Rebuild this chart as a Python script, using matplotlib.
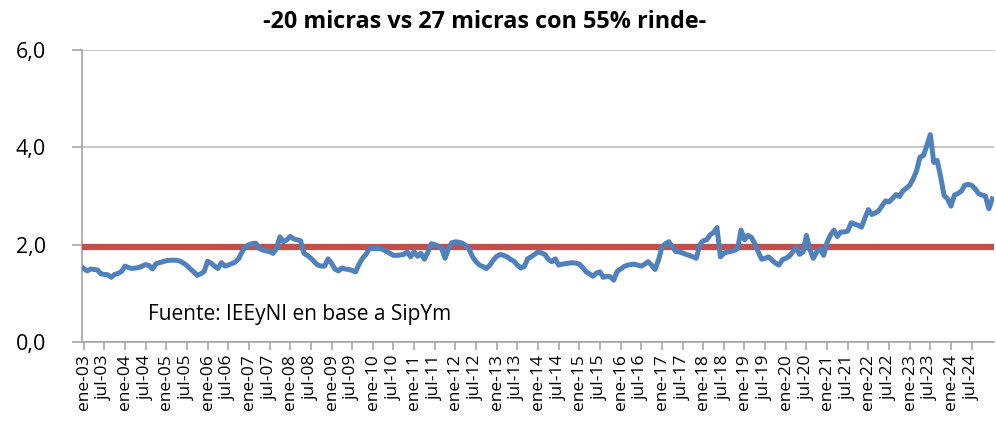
import matplotlib
matplotlib.use("Agg")
import matplotlib.pyplot as plt
import numpy as np

# Monthly ratio, Jan 2003 .. Jan 2025
v2003 = [1.51, 1.46, 1.50, 1.49, 1.48, 1.40, 1.39, 1.38, 1.33, 1.39, 1.41, 1.45]
v2004 = [1.56, 1.53, 1.51, 1.52, 1.53, 1.56, 1.59, 1.57, 1.50, 1.61, 1.63, 1.65]
v2005 = [1.67, 1.68, 1.68, 1.68, 1.66, 1.62, 1.57, 1.50, 1.44, 1.37, 1.40, 1.45]
v2006 = [1.66, 1.62, 1.56, 1.51, 1.63, 1.56, 1.58, 1.61, 1.64, 1.71, 1.85, 1.96]
v2007 = [2.00, 2.02, 2.03, 1.92, 1.89, 1.87, 1.86, 1.82, 1.92, 2.16, 2.06, 2.10]
v2008 = [2.17, 2.12, 2.10, 2.08, 1.82, 1.78, 1.72, 1.65, 1.58, 1.56, 1.56, 1.71]
v2009 = [1.62, 1.50, 1.46, 1.52, 1.50, 1.49, 1.47, 1.44, 1.60, 1.72, 1.80, 1.92]
v2010 = [1.92, 1.92, 1.92, 1.90, 1.86, 1.82, 1.78, 1.78, 1.79, 1.80, 1.85, 1.75]
v2011 = [1.85, 1.76, 1.82, 1.70, 1.85, 2.02, 2.00, 1.97, 1.92, 1.72, 1.92, 2.04]
v2012 = [2.06, 2.05, 2.03, 1.98, 1.90, 1.75, 1.65, 1.58, 1.55, 1.51, 1.58, 1.68]
v2013 = [1.76, 1.80, 1.78, 1.75, 1.70, 1.66, 1.58, 1.52, 1.55, 1.71, 1.75, 1.80]
v2014 = [1.85, 1.83, 1.80, 1.70, 1.65, 1.71, 1.58, 1.60, 1.61, 1.62, 1.63, 1.62]
v2015 = [1.60, 1.53, 1.44, 1.40, 1.35, 1.42, 1.44, 1.33, 1.35, 1.34, 1.27, 1.45]
v2016 = [1.50, 1.55, 1.58, 1.59, 1.60, 1.58, 1.56, 1.60, 1.65, 1.58, 1.49, 1.68]
v2017 = [1.95, 2.02, 2.06, 1.96, 1.86, 1.85, 1.83, 1.80, 1.78, 1.75, 1.72, 2.00]
v2018 = [2.08, 2.10, 2.20, 2.25, 2.35, 1.75, 1.82, 1.85, 1.86, 1.88, 1.92, 2.30]
v2019 = [2.10, 2.19, 2.15, 2.02, 1.85, 1.70, 1.72, 1.75, 1.68, 1.62, 1.58, 1.69]
v2020 = [1.72, 1.76, 1.85, 1.95, 1.80, 1.85, 2.19, 1.90, 1.72, 1.85, 1.92, 1.78]
v2021 = [2.05, 2.20, 2.30, 2.17, 2.26, 2.26, 2.28, 2.45, 2.42, 2.40, 2.36, 2.55]
v2022 = [2.72, 2.62, 2.65, 2.70, 2.80, 2.90, 2.88, 2.95, 3.03, 2.99, 3.10, 3.16]
v2023 = [3.22, 3.35, 3.52, 3.80, 3.83, 4.04, 4.26, 3.69, 3.73, 3.39, 3.01, 2.94]
v2024 = [2.79, 3.02, 3.05, 3.10, 3.22, 3.24, 3.22, 3.15, 3.05, 3.02, 3.00, 2.74]
v2025 = [2.94]

reference_level = 1.95
years = list(range(2003, 2025))
title = "-20 micras vs 27 micras con 55% rinde-"
source = "Fuente: IEEyNI en base a SipYm"

values = (v2003 + v2004 + v2005 + v2006 + v2007 + v2008 + v2009 + v2010 + v2011 +
          v2012 + v2013 + v2014 + v2015 + v2016 + v2017 + v2018 + v2019 + v2020 +
          v2021 + v2022 + v2023 + v2024 + v2025)
n = len(values)
idx = np.arange(n)

tick_labels = []
for y in years:
    tick_labels.append(f"ene-{y % 100:02d}")
    tick_labels.append(f"jul-{y % 100:02d}")
tick_pos = np.arange(len(tick_labels)) * 6

plt.rcParams['font.family'] = ['Open Sans', 'DejaVu Sans']
fig = plt.figure(figsize=(9.96, 4.25), dpi=100)
ax = fig.add_axes([82/996, 1 - 342/425, (994 - 82)/996, (342 - 50)/425])

ax.axhline(reference_level, color='#C0504D', lw=4.5, zorder=3)
ax.plot(idx, values, color='#4F81BD', lw=3.6, zorder=4, solid_joinstyle='round')

ax.set_xlim(-0.5, n - 0.5)
ax.set_ylim(0, 6)
ax.set_yticks([0, 2, 4, 6])
ax.set_yticklabels(["0,0", "2,0", "4,0", "6,0"], fontsize=15.5)
ax.yaxis.grid(True, color='#BFBFBF', lw=1.2)
ax.set_axisbelow(True)
ax.set_xticks(tick_pos)
ax.set_xticklabels(tick_labels, rotation=90, fontsize=12.5)

for s in ['top', 'right']:
    ax.spines[s].set_visible(False)
for s in ['left', 'bottom']:
    ax.spines[s].set_color('#A6A6A6')
    ax.spines[s].set_linewidth(1.2)
ax.tick_params(axis='y', length=7, width=1.2, color='#A6A6A6', pad=19)
ax.tick_params(axis='x', length=6, width=1.2, color='#A6A6A6', pad=3)

ax.text(0.072, 0.075, source, transform=ax.transAxes, fontsize=15, color='black')
fig.text(485/996, 1 - 22/425, title, ha='center', va='center', fontsize=16.8, fontweight='bold')

fig.savefig("out.png", dpi=100)
